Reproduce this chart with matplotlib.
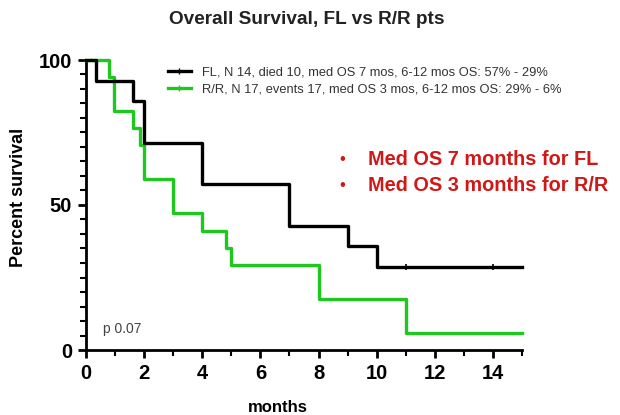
import matplotlib
matplotlib.use("Agg")
import matplotlib.pyplot as plt
from matplotlib.lines import Line2D

plt.rcParams['font.family'] = ['Liberation Sans', 'DejaVu Sans']

# Kaplan-Meier steps (months, percent survival)
fl_times = [0, 0.35, 1.6, 2, 4, 7, 9, 10, 15]
fl_surv = [100, 92.9, 85.7, 71.4, 57.1, 42.9, 35.7, 28.6, 28.6]
fl_censor_times = [11, 14]
fl_censor_surv = [28.6, 28.6]

rr_times = [0, 0.8, 0.95, 1.6, 1.85, 2, 3, 4, 4.8, 5, 8, 11, 15]
rr_surv = [100, 94.1, 82.4, 76.5, 70.6, 58.8, 47.1, 41.2, 35.3, 29.4, 17.6, 5.9, 5.9]

fl_label = "FL, N 14, died 10, med OS 7 mos, 6-12 mos OS: 57% - 29%"
rr_label = "R/R, N 17, events 17, med OS 3 mos, 6-12 mos OS: 29% - 6%"
notes = ["Med OS 7 months for FL", "Med OS 3 months for R/R"]
x_ticks = [0, 2, 4, 6, 8, 10, 12, 14]
y_ticks = [0, 50, 100]

fl_color = "black"
rr_color = "#1ec81e"
note_color = "#d01818"

fig = plt.figure(figsize=(6.2, 4.15), dpi=100)
ax = fig.add_axes([86 / 620, 65 / 415, 436 / 620, 290 / 415])

ax.step(rr_times, rr_surv, where="post", color=rr_color, lw=2.4, clip_on=False, zorder=3)
ax.step(fl_times, fl_surv, where="post", color=fl_color, lw=2.4, clip_on=False, zorder=4)
ax.plot(fl_censor_times, fl_censor_surv, ls="none", marker="|", ms=5, mew=1.2,
        color=fl_color, clip_on=False, zorder=5)

ax.set_xlim(0, 15)
ax.set_ylim(0, 100)
ax.set_xticks(x_ticks)
ax.set_xticks(range(0, 16), minor=True)
ax.set_yticks(y_ticks)
ax.set_yticks(range(0, 101, 5), minor=True)

for side in ["top", "right"]:
    ax.spines[side].set_visible(False)
for side in ["left", "bottom"]:
    ax.spines[side].set_linewidth(2)

ax.tick_params(which="major", direction="out", length=6, width=2, labelsize=14.5, pad=4)
ax.tick_params(which="minor", direction="out", length=4, width=1.5)
for lab in ax.get_xticklabels() + ax.get_yticklabels():
    lab.set_fontweight("bold")

ax.set_xlabel("months", fontsize=12, fontweight="bold")
ax.xaxis.set_label_coords(0.44, -0.172)
ax.set_ylabel("Percent survival", fontsize=13, fontweight="bold")
ax.yaxis.set_label_coords(-0.135, 0.526)
fig.text(307 / 620, 1 - 20 / 415, "Overall Survival, FL vs R/R pts", ha="center", va="center",
         fontsize=13.7, fontweight="bold", color="#222222")

handles = [
    Line2D([], [], color=fl_color, lw=2.4, marker="|", ms=4, markevery=[1]),
    Line2D([], [], color=rr_color, lw=2.4, marker="|", ms=4, markevery=[1]),
]
leg = ax.legend(handles, [fl_label, rr_label], loc="upper left",
                bbox_to_anchor=(156 / 620, 1 - 55 / 415), bbox_transform=fig.transFigure,
                frameon=False, fontsize=9.3, labelcolor="#333333", handlelength=1.8,
                handletextpad=0.85, labelspacing=0.38)

ax.text(0.04, 0.06, "p 0.07", transform=ax.transAxes, fontsize=10, color="#444444")

for i, note in enumerate(notes):
    y = 1 - (159 + i * 26) / 415
    fig.text(342 / 620, y, "\u2022", ha="center", va="center", fontsize=12, color=note_color)
    fig.text(368 / 620, y, note, ha="left", va="center", fontsize=14.3,
             fontweight="bold", color=note_color)

fig.savefig("out.png", dpi=100)
